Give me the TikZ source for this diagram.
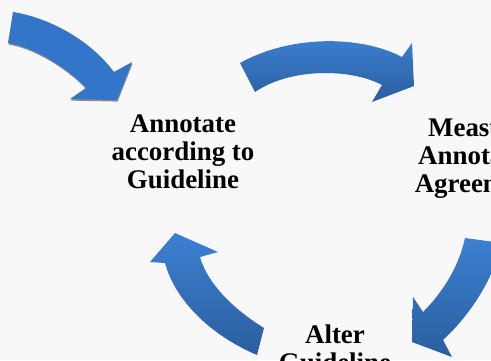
\documentclass[tikz,border=0pt]{standalone}
\usepackage{fontspec}
\setmainfont{Liberation Serif}
\definecolor{bg}{RGB}{248,248,248}
\definecolor{arrflat}{RGB}{51,118,201}
\definecolor{arrtop}{RGB}{60,128,210}
\definecolor{arrbot}{RGB}{43,94,158}
\definecolor{arrshadow}{RGB}{140,140,140}
\begin{document}
\begin{tikzpicture}[x=1bp,y=-1bp,
  lbl/.style={font=\fontsize{27}{28}\selectfont\bfseries, align=center, inner sep=0pt, text=black, anchor=north},
  shadedarrow/.style={top color=arrtop, bottom color=arrbot, draw=none},
  flatarrow/.style={fill=arrflat, draw=none},
  arrowshadow/.style={fill=arrshadow, draw=none}
]
\useasboundingbox (0,0) rectangle (491,360);
\clip (0,0) rectangle (491,360);
\fill[bg] (0,0) rectangle (491,360);

% arrow 1 (top left, into "Annotate")
\path[arrowshadow, shift={(0.6,1.6)}]
  (13,12) .. controls (50,18) and (90,40) .. (114,72)
  -- (132,62) -- (117,100) -- (70,99) -- (86,88)
  .. controls (70,70) and (35,47) .. (8,43) -- cycle;
\path[flatarrow]
  (13,12) .. controls (50,18) and (90,40) .. (114,72)
  -- (132,62) -- (117,100) -- (70,99) -- (86,88)
  .. controls (70,70) and (35,47) .. (8,43) -- cycle;

% arrow 2 (top, Annotate -> Measure)
\path[shadedarrow]
  (240,63) .. controls (290,35) and (360,35) .. (402,57)
  -- (412,43) -- (414,86) -- (372,102) -- (382,85)
  .. controls (350,68) and (290,68) .. (255,92) -- cycle;

% arrow 3 (right, Measure -> Alter)
\path[shadedarrow]
  (465,238) -- (502,243)
  .. controls (493,280) and (470,315) .. (443,340)
  -- (452,357) -- (412,342) -- (413,297) -- (423,312)
  .. controls (440,295) and (458,270) .. (465,238) -- cycle;

% arrow 4 (bottom left, Alter -> Annotate)
\path[shadedarrow]
  (264,328) .. controls (235,310) and (208,285) .. (200,257)
  -- (218,252) -- (175,233) -- (150,262) -- (165,263)
  .. controls (175,300) and (210,335) .. (257,355) -- cycle;

\node[lbl] (annotate) at (183,115) {Annotate\\according to\\Guideline};
\node[lbl] (measure) at (478,119) {Measure\\Annotator\\Agreement};
\node[lbl] (alter) at (335,325) {Alter\\Guideline};
\end{tikzpicture}
\end{document}
